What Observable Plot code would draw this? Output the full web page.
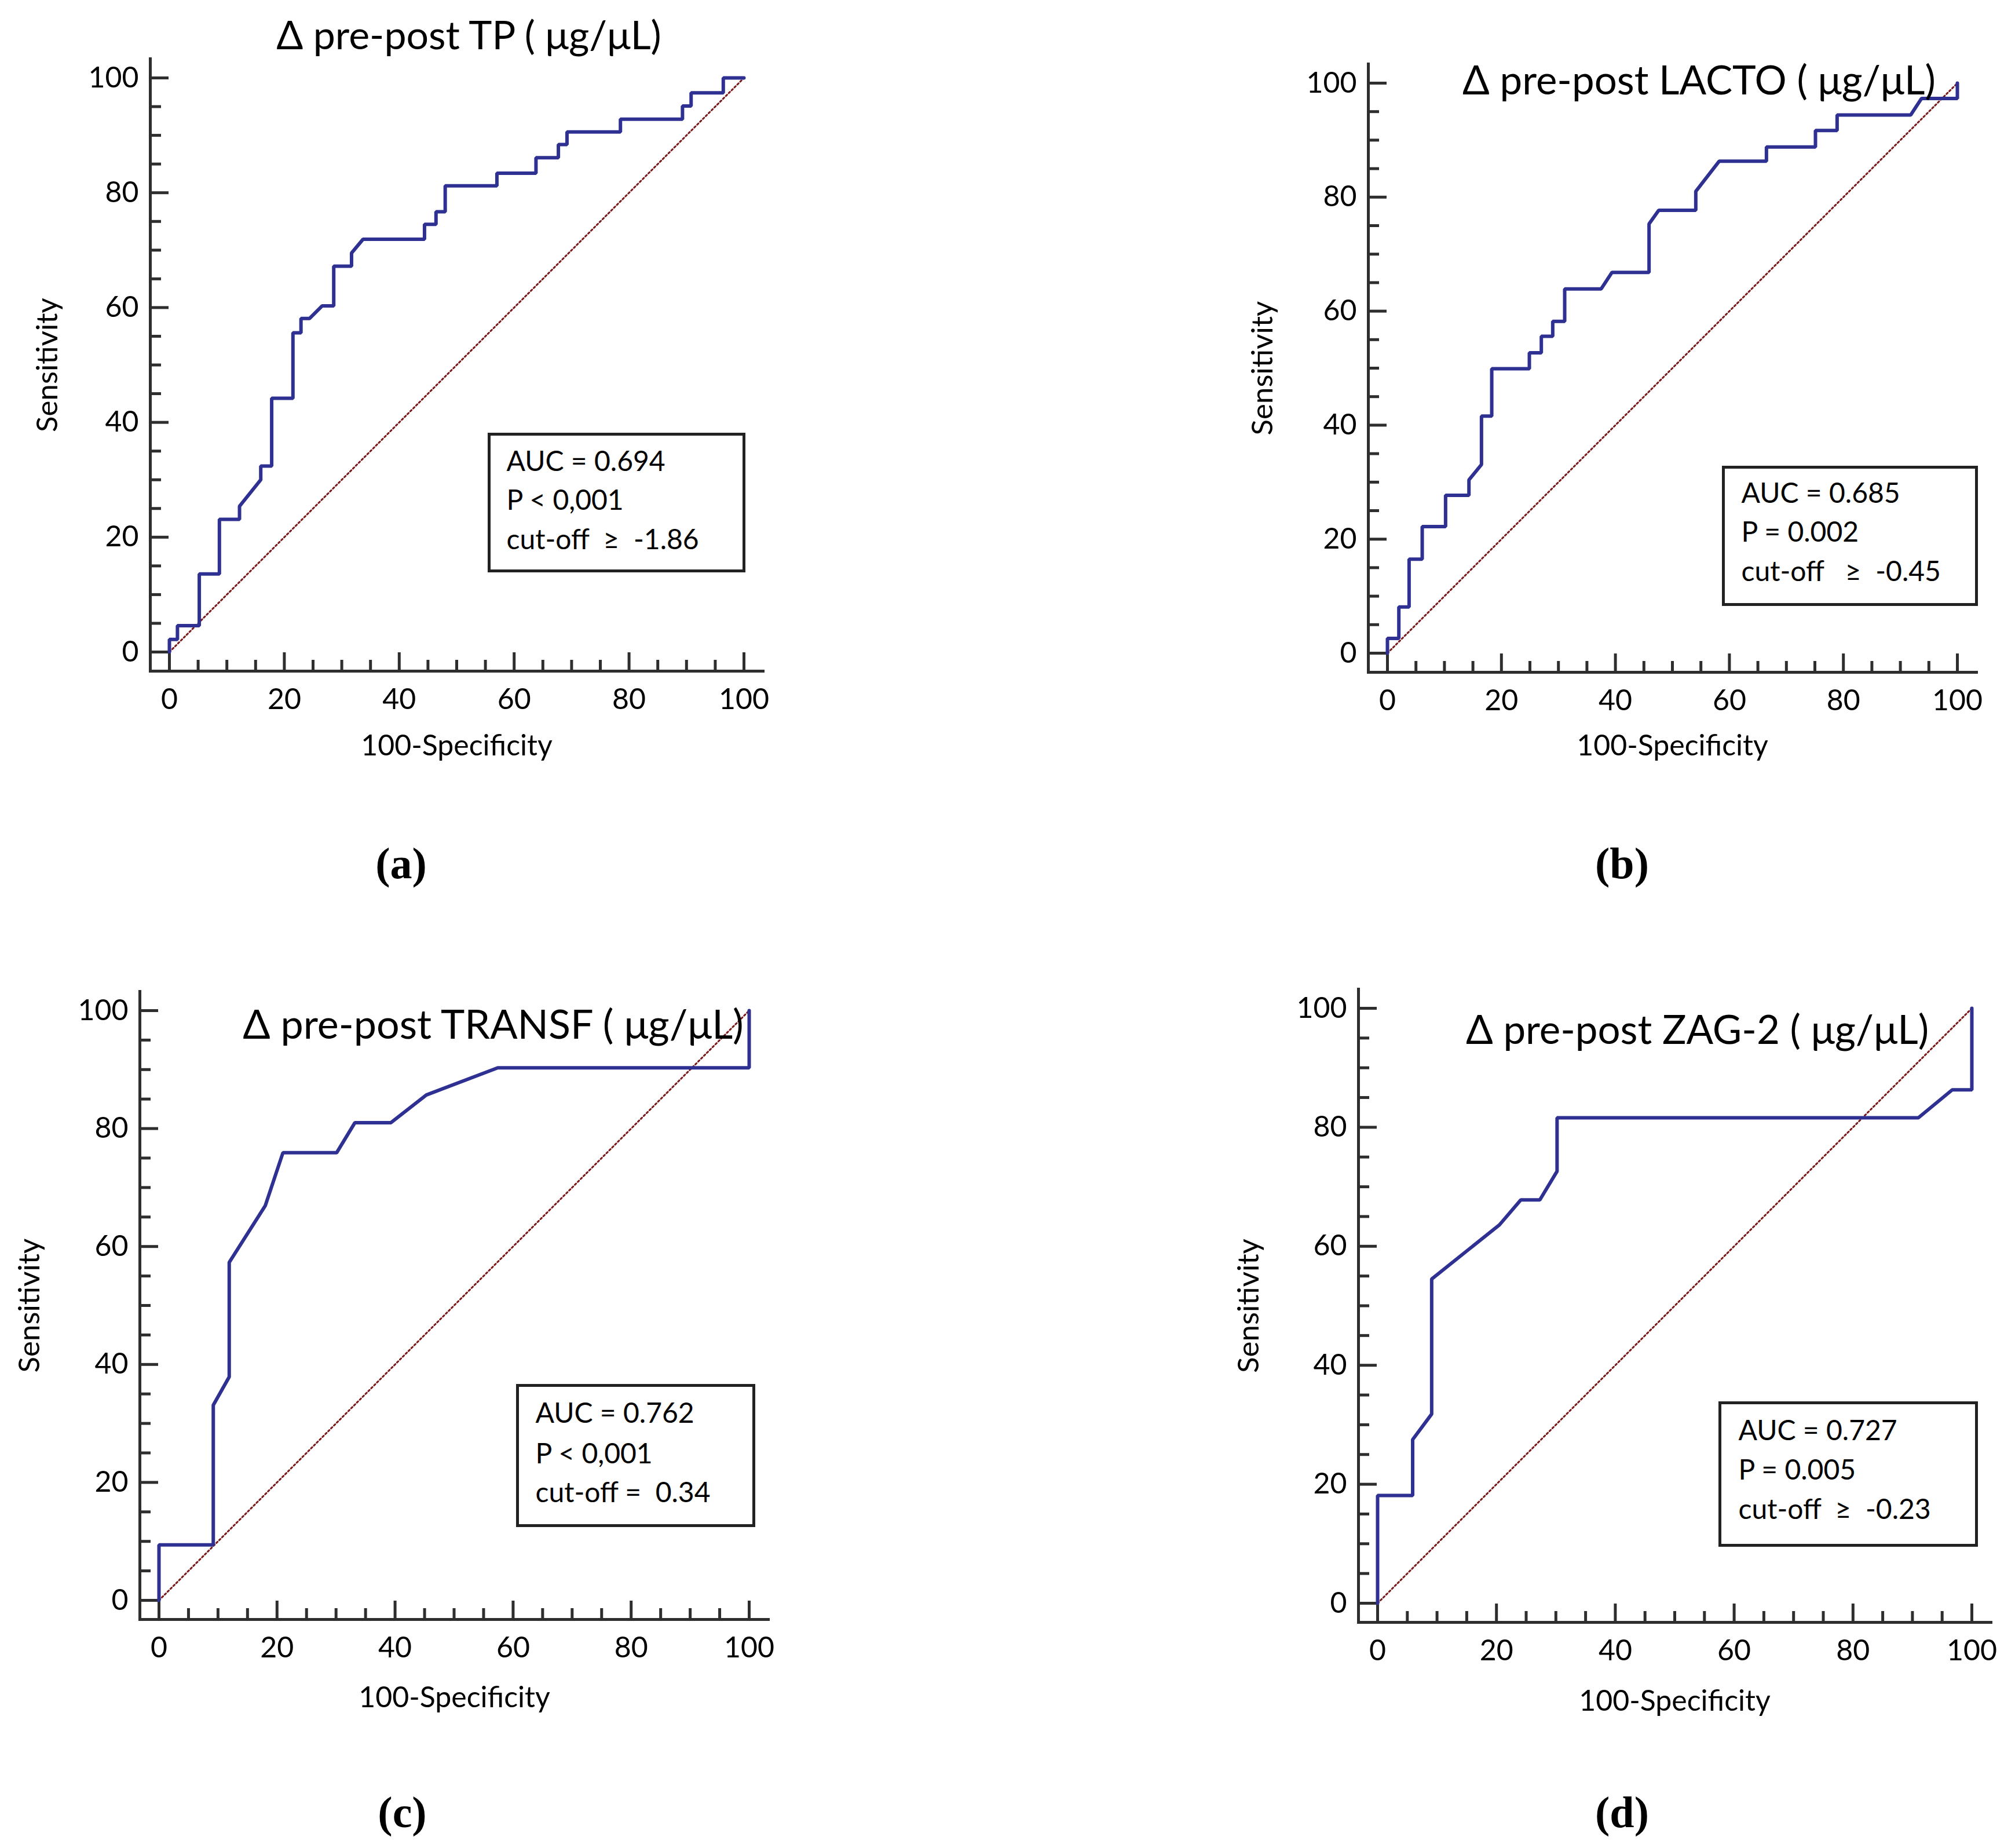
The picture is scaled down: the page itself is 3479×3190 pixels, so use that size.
<!DOCTYPE html>
<html><head><meta charset="utf-8">
<script src="https://cdn.jsdelivr.net/npm/d3@7"></script>
<script src="https://cdn.jsdelivr.net/npm/@observablehq/plot@0.6"></script>
<style>
html,body{margin:0;padding:0;background:#fff;}
#page{position:relative;width:3479px;height:3190px;background:#fff;overflow:hidden;}
#page svg{position:absolute;max-width:none;}
</style></head><body><div id="page"></div>
<script>
// ---------------- DATA ----------------
const titles = ["Δ pre-post TP ( μg/μL)", "Δ pre-post LACTO ( μg/μL)", "Δ pre-post TRANSF ( μg/μL)", "Δ pre-post ZAG-2 ( μg/μL)"];
const panelLetters = ["(a)", "(b)", "(c)", "(d)"];
const xAxisLabel = "100-Specificity";
const yAxisLabel = "Sensitivity";
const majorTicks = [0, 20, 40, 60, 80, 100];
const minorTicks = [5, 10, 15, 25, 30, 35, 45, 50, 55, 65, 70, 75, 85, 90, 95];
const aucValues = ["0.694", "0.685", "0.762", "0.727"];
const pLabels = ["P < 0,001", "P = 0.002", "P < 0,001", "P = 0.005"];
const cutoffLabels = ["cut-off  ≥  -1.86", "cut-off   ≥  -0.45", "cut-off =  0.34", "cut-off  ≥  -0.23"];
const diagX = [0, 100];
const diagY = [0, 100];

// (a) TP
const tpX = [0,0,1.4,1.4,5.2,5.2,8.7,8.7,12.2,12.2,15.9,15.9,17.8,17.8,21.5,21.5,22.9,22.9,24.4,26.6,28.6,28.6,31.7,31.7,33.7,44.4,44.4,46.4,46.4,48.0,48.0,57.0,57.0,63.8,63.8,67.7,67.7,69.2,69.2,78.5,78.5,89.3,89.3,90.8,90.8,96.4,96.4,100];
const tpY = [0,2.2,2.2,4.6,4.6,13.6,13.6,23.1,23.1,25.4,30.0,32.4,32.4,44.2,44.2,55.6,55.6,58.1,58.1,60.3,60.3,67.2,67.2,69.5,71.9,71.9,74.5,74.5,76.7,76.7,81.2,81.2,83.4,83.4,86.1,86.1,88.4,88.4,90.6,90.6,92.8,92.8,95.1,95.1,97.4,97.4,100,100];
// (b) LACTO
const lactoX = [0,0,2.0,2.0,3.8,3.8,6.1,6.1,10.2,10.2,14.3,14.3,16.5,16.5,18.3,18.3,24.9,24.9,27.0,27.0,29.0,29.0,31.1,31.1,37.5,39.4,45.9,45.9,47.6,54.1,54.1,58.2,66.5,66.5,75.1,75.1,78.9,78.9,91.8,93.7,100,100];
const lactoY = [0,2.6,2.6,8.1,8.1,16.5,16.5,22.2,22.2,27.7,27.7,30.4,33.1,41.6,41.6,49.9,49.9,52.7,52.7,55.6,55.6,58.2,58.2,63.9,63.9,66.8,66.8,75.3,77.7,77.7,81.0,86.3,86.3,88.8,88.8,91.7,91.7,94.4,94.4,97.3,97.3,100];
// (c) TRANSF
const transfX = [0,0,9.2,9.2,11.9,11.9,18.0,21.0,30.1,33.2,39.3,45.3,57.4,100,100];
const transfY = [0,9.4,9.4,33.1,37.9,57.3,66.9,75.9,75.9,81.0,81.0,85.7,90.3,90.3,100];
// (d) ZAG-2
const zagX = [0,0,5.9,5.9,9.1,9.1,20.5,24.1,27.3,30.2,30.2,91.0,96.7,100,100];
const zagY = [0,18.1,18.1,27.5,31.8,54.5,63.6,67.8,67.8,72.6,81.6,81.6,86.3,86.3,100];

// ---------------- STYLE / LAYOUT ----------------
const CURVE = "#2E3192", DIAG = "#7a1a1a", AXIS = "#2e2e2e", BOX = "#222222";
const INSET = 33, MAJOR = 32, MINOR = 19;

const layouts = [
  {L:0, T:0, W:1739, H:1595, x0:292, x100:1284, y0:1125, y100:134, titleSize:68,
   title:[809,84], xl:[788,1303], yl:[98,629.5], box:[844,749,1284,985], tl:874, bl:[812,879,947], letter:[692,1515]},
  {L:1739, T:0, W:1740, H:1595, x0:2395, x100:3379, y0:1127, y100:143, titleSize:69,
   title:[2933,162], xl:[2887,1303], yl:[2196,635], box:[2975,806,3413,1043], tl:3006, bl:[867,934,1002], letter:[2800,1515]},
  {L:0, T:1595, W:1739, H:1595, x0:274, x100:1293, y0:2762, y100:1744, titleSize:70,
   title:[851,1792], xl:[784,2946], yl:[67,2253], box:[893,2391,1301,2633], tl:924, bl:[2455,2525,2592], letter:[694,3153]},
  {L:1739, T:1595, W:1740, H:1595, x0:2378, x100:3404, y0:2767, y100:1740, titleSize:69,
   title:[2930,1801], xl:[2891,2952], yl:[2172,2253.5], box:[2969,2421,3412,2667], tl:3001, bl:[2485,2553,2621], letter:[2800,3153]}
];
const series = [[tpX, tpY], [lactoX, lactoY], [transfX, transfY], [zagX, zagY]];

const page = document.getElementById("page");

layouts.forEach((P, k) => {
  const fl = P.x0 - INSET, fr = P.x100 + INSET, ft = P.y100 - INSET, fb = P.y0 + INSET;
  const frameW = fr - fl, frameH = fb - ft;
  const mL = fl - P.L, mT = ft - P.T, mR = P.L + P.W - fr, mB = P.T + P.H - fb;
  const at = (ax, ay) => ({frameAnchor: "top-left", dx: ax - fl, dy: ay - ft});
  const [xs, ys] = series[k];
  const curve = xs.map((x, i) => ({x, y: ys[i]}));
  const diagonal = diagX.map((x, i) => ({x, y: diagY[i]}));
  const stats = ["AUC = " + aucValues[k], pLabels[k], cutoffLabels[k]];
  const axisStyle = {stroke: AXIS, strokeWidth: 5};

  const marks = [
    Plot.tickX(minorTicks, {x: d => d, insetTop: frameH - MINOR, ...axisStyle}),
    Plot.tickX(majorTicks, {x: d => d, insetTop: frameH - MAJOR, ...axisStyle}),
    Plot.tickY(minorTicks, {y: d => d, insetRight: frameW - MINOR, ...axisStyle}),
    Plot.tickY(majorTicks, {y: d => d, insetRight: frameW - MAJOR, ...axisStyle}),
    Plot.frame({anchor: "left", strokeLinecap: "square", ...axisStyle}),
    Plot.frame({anchor: "bottom", strokeLinecap: "square", ...axisStyle}),
    Plot.axisX({ticks: majorTicks, tickSize: 0, tickPadding: 30, fontSize: 50, label: null, tickFormat: d => String(d), fill: "black"}),
    Plot.axisY({ticks: majorTicks, tickSize: 0, tickPadding: 20, fontSize: 50, label: null, tickFormat: d => String(d), fill: "black"}),
    Plot.line(diagonal, {x: "x", y: "y", stroke: DIAG, strokeWidth: 3, strokeDasharray: "3,4"}),
    Plot.line(curve, {x: "x", y: "y", stroke: CURVE, strokeWidth: 6, strokeLinejoin: "miter"}),
    Plot.frame({insetLeft: P.box[0] - fl, insetTop: P.box[1] - ft, insetRight: Math.max(0, fr - P.box[2]), insetBottom: fb - P.box[3], stroke: BOX, strokeWidth: 5, fill: "none"}),
    Plot.text([titles[k]], {...at(P.title[0], P.title[1]), text: d => d, textAnchor: "middle", lineAnchor: "bottom", fontSize: P.titleSize, fill: "black"}),
    Plot.text([xAxisLabel], {...at(P.xl[0], P.xl[1]), text: d => d, textAnchor: "middle", lineAnchor: "bottom", fontSize: 50, fill: "black"}),
    Plot.text([yAxisLabel], {...at(P.yl[0], P.yl[1]), text: d => d, textAnchor: "middle", lineAnchor: "bottom", rotate: -90, fontSize: 51, fill: "black"}),
    ...stats.map((s, i) => Plot.text([s], {...at(P.tl, P.bl[i]), text: d => d, textAnchor: "start", lineAnchor: "bottom", fontSize: 48, fill: "black"})),
    Plot.text([panelLetters[k]], {...at(P.letter[0], P.letter[1]), text: d => d, textAnchor: "middle", lineAnchor: "bottom", fontSize: 76, fontWeight: "bold", fontFamily: "Liberation Serif", fill: "black"})
  ];

  const svg = Plot.plot({
    width: P.W, height: P.H,
    marginLeft: mL, marginTop: mT, marginRight: mR, marginBottom: mB,
    x: {domain: [0, 100], inset: INSET},
    y: {domain: [0, 100], inset: INSET},
    style: {fontFamily: "Lato", color: "black", background: "transparent", overflow: "visible"},
    marks
  });
  svg.style.left = P.L + "px";
  svg.style.top = P.T + "px";
  page.appendChild(svg);
});
</script></body></html>
